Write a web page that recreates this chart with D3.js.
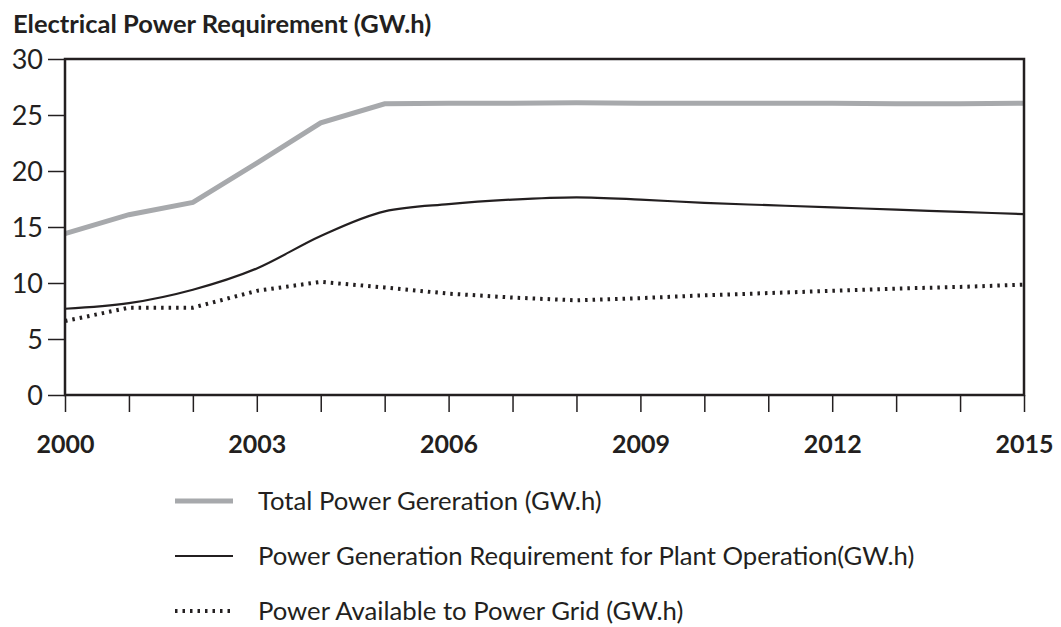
<!DOCTYPE html>
<html>
<head>
<meta charset="utf-8">
<script src="https://cdn.jsdelivr.net/npm/d3@7"></script>
<style>
  html, body { margin: 0; padding: 0; background: #fff; }
  svg { display: block; }
  text { font-family: Lato, "Open Sans", sans-serif; fill: #231f20; }
</style>
</head>
<body>
<svg id="chart" width="1061" height="627"></svg>
<script>
const years = [2000,2001,2002,2003,2004,2005,2006,2007,2008,2009,2010,2011,2012,2013,2014,2015];
const totalGeneration = [14.4,16.1,17.2,20.7,24.3,26.0,26.05,26.05,26.1,26.05,26.05,26.05,26.05,26.0,26.0,26.05];
const plantRequirement = [7.7,8.2,9.4,11.3,14.2,16.4,17.05,17.45,17.65,17.45,17.15,16.95,16.75,16.55,16.35,16.15];
const gridAvailable = [6.6,7.8,7.8,9.3,10.1,9.6,9.05,8.7,8.45,8.65,8.9,9.1,9.3,9.5,9.65,9.85];
const yTicks = [0,5,10,15,20,25,30];
const xLabelYears = [2000,2003,2006,2009,2012,2015];
const seriesNames = [
  "Total Power Gereration (GW.h)",
  "Power Generation Requirement for Plant Operation(GW.h)",
  "Power Available to Power Grid (GW.h)"
];
const titleText = "Electrical Power Requirement (GW.h)";

const ink = "#231f20";
const svg = d3.select("#chart");
const m = {left: 65, right: 1024, top: 59, bottom: 395};

const x = d3.scaleLinear().domain([2000, 2015]).range([m.left, m.right]);
const y = d3.scaleLinear().domain([0, 30]).range([m.bottom, m.top]);

// title
svg.append("text")
  .attr("x", 13).attr("y", 33)
  .style("font-size", "25.5px").style("font-weight", "bold")
  .text(titleText);

// y axis
const yAxis = svg.append("g")
  .attr("transform", `translate(${m.left},0)`)
  .call(d3.axisLeft(y).tickValues(yTicks).tickSize(17).tickPadding(5).tickFormat(d3.format("d")));
yAxis.select(".domain").remove();
yAxis.selectAll(".tick line").attr("stroke", ink).attr("stroke-width", 1.5);
yAxis.selectAll(".tick text").style("font-size", "27px").attr("fill", ink).attr("dy", "0.36em");

// x axis
const xAxis = svg.append("g")
  .attr("transform", `translate(0,${m.bottom})`)
  .call(d3.axisBottom(x).tickValues(years).tickSize(17).tickPadding(23)
    .tickFormat(d => xLabelYears.includes(d) ? String(d) : ""));
xAxis.select(".domain").remove();
xAxis.selectAll(".tick line").attr("stroke", ink).attr("stroke-width", 1.5);
xAxis.selectAll(".tick text").style("font-size", "25px").style("font-weight", "bold").attr("fill", ink);

// series
const series = [
  {values: totalGeneration, color: "#a7a9ac", width: 5, dash: null, curve: d3.curveLinear},
  {values: plantRequirement, color: ink, width: 2.2, dash: null, curve: d3.curveMonotoneX},
  {values: gridAvailable, color: ink, width: 4, dash: "2.5,5", curve: d3.curveLinear}
];

series.forEach(s => {
  const line = d3.line().x((d, i) => x(years[i])).y(d => y(d)).curve(s.curve);
  svg.append("path")
    .datum(s.values)
    .attr("d", line)
    .attr("fill", "none")
    .attr("stroke", s.color)
    .attr("stroke-width", s.width)
    .attr("stroke-dasharray", s.dash);
});

// frame
svg.append("rect")
  .attr("x", m.left).attr("y", m.top)
  .attr("width", m.right - m.left).attr("height", m.bottom - m.top)
  .attr("fill", "none").attr("stroke", ink).attr("stroke-width", 2.5);

// legend
const legendRows = [501, 556, 611];
series.forEach((s, i) => {
  const g = svg.append("g").attr("transform", `translate(0,${legendRows[i]})`);
  g.append("line")
    .attr("x1", 175).attr("x2", 233).attr("y1", 0).attr("y2", 0)
    .attr("stroke", s.color).attr("stroke-width", s.width)
    .attr("stroke-dasharray", s.dash);
  g.append("text")
    .attr("x", 258).attr("y", 0).attr("dy", "0.35em")
    .style("font-size", "25.7px")
    .text(seriesNames[i]);
});
</script>
</body>
</html>
